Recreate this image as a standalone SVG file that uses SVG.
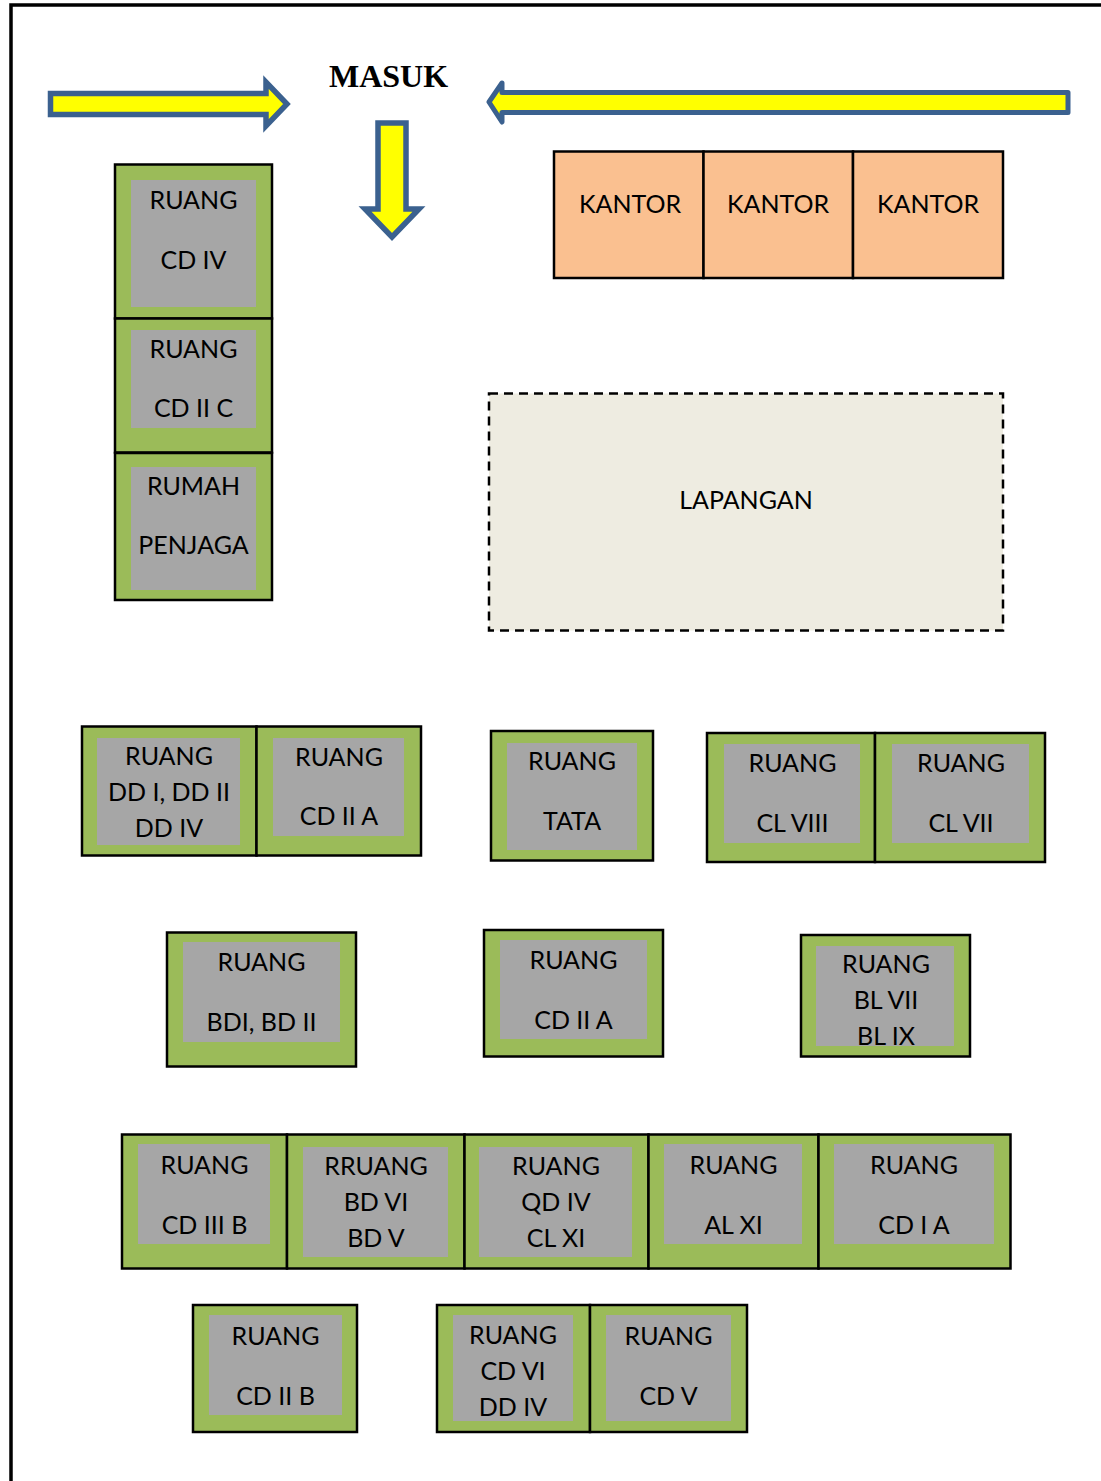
<svg xmlns="http://www.w3.org/2000/svg" width="1101" height="1481" viewBox="0 0 1101 1481">
<style>
.o{fill:#9BBB59;stroke:#000;stroke-width:2.5}
.i{fill:#A6A6A6}
.k{fill:#FAC090;stroke:#000;stroke-width:2.5}
.a{fill:#FF0;stroke:#3B618F;stroke-width:5.5;stroke-linejoin:miter}
text{font-family:"Lato","Open Sans","Liberation Sans",sans-serif;font-size:25px;fill:#000;text-anchor:middle}
</style>
<rect width="1101" height="1481" fill="#fff"/>
<path d="M11 1481V5H1101" fill="none" stroke="#000" stroke-width="3.5"/>
<g id="connectors">
<polygon class="a" points="50.5,93.5 266,93.5 266,82 287,104 266,126 266,114.500 50.500,114.500"/>
<polygon class="a" style="stroke-linejoin:round;stroke-width:5" points="1068,92.500 502,92.500 502,83 489,102 502,122 502,112.500 1068,112.500"/>
<polygon class="a" points="378,123 406,123 406,209 419,209 392,237 365,209 378,209"/>
</g>
<g id="masuk"><text x="388.500" y="87" style="font-family:'Liberation Serif',serif;font-weight:bold;font-size:32px">MASUK</text></g>
<g id="kantor1"><rect class="k" x="554" y="151.500" width="149.500" height="126.500"/><text x="630" y="213">KANTOR</text></g>
<g id="kantor2"><rect class="k" x="703.500" y="151.500" width="149.500" height="126.500"/><text x="778" y="213">KANTOR</text></g>
<g id="kantor3"><rect class="k" x="853" y="151.500" width="150" height="126.500"/><text x="928" y="213">KANTOR</text></g>
<g id="lapangan"><rect x="489" y="393.500" width="514" height="237" fill="#EEECE1" stroke="#000" stroke-width="2.500" stroke-dasharray="9 6"/><text x="746" y="509">LAPANGAN</text></g>
<g id="cd4"><rect class="o" x="115" y="164.500" width="157" height="154"/><rect class="i" x="131" y="180" width="125" height="127"/><text x="193.500" y="209">RUANG</text><text x="193.500" y="269">CD IV</text></g>
<g id="cd2c"><rect class="o" x="115" y="318.500" width="157" height="134"/><rect class="i" x="131" y="330" width="125" height="98"/><text x="193.500" y="358">RUANG</text><text x="193.500" y="417">CD II C</text></g>
<g id="penjaga"><rect class="o" x="115" y="453" width="157" height="147"/><rect class="i" x="131" y="467" width="125" height="123"/><text x="193.500" y="495">RUMAH</text><text x="193.500" y="554">PENJAGA</text></g>
<g id="dd"><rect class="o" x="82" y="726.500" width="174.500" height="129"/><rect class="i" x="97" y="738" width="143" height="107"/><text x="169" y="765">RUANG</text><text x="169" y="801">DD I, DD II</text><text x="169" y="837">DD IV</text></g>
<g id="cd2a1"><rect class="o" x="256.500" y="726.500" width="164.500" height="129"/><rect class="i" x="273" y="738" width="131" height="98"/><text x="339" y="766">RUANG</text><text x="339" y="825">CD II A</text></g>
<g id="tata"><rect class="o" x="491" y="731" width="162" height="129.500"/><rect class="i" x="507" y="743" width="130" height="107"/><text x="572" y="770">RUANG</text><text x="572" y="830">TATA</text></g>
<g id="cl8"><rect class="o" x="707" y="733" width="168" height="129"/><rect class="i" x="724" y="744" width="136" height="99"/><text x="792.500" y="772">RUANG</text><text x="792.500" y="832">CL VIII</text></g>
<g id="cl7"><rect class="o" x="875" y="733" width="170" height="129"/><rect class="i" x="892" y="744" width="137" height="99"/><text x="961" y="772">RUANG</text><text x="961" y="832">CL VII</text></g>
<g id="bd"><rect class="o" x="167" y="932.500" width="189" height="134"/><rect class="i" x="183" y="942" width="157" height="100"/><text x="261.500" y="971">RUANG</text><text x="261.500" y="1031">BDI, BD II</text></g>
<g id="cd2a2"><rect class="o" x="484" y="930" width="179" height="126.500"/><rect class="i" x="500" y="940" width="147" height="99"/><text x="573.500" y="969">RUANG</text><text x="573.500" y="1029">CD II A</text></g>
<g id="bl"><rect class="o" x="801" y="935" width="169" height="121.500"/><rect class="i" x="816" y="946" width="138" height="100"/><text x="886" y="973">RUANG</text><text x="886" y="1009">BL VII</text><text x="886" y="1045">BL IX</text></g>
<g id="cd3b"><rect class="o" x="122" y="1134.500" width="165" height="134"/><rect class="i" x="138" y="1144" width="132" height="100"/><text x="204.500" y="1174">RUANG</text><text x="204.500" y="1234">CD III B</text></g>
<g id="bd6"><rect class="o" x="287" y="1134.500" width="177.500" height="134"/><rect class="i" x="303" y="1147" width="145" height="110"/><text x="376" y="1175">RRUANG</text><text x="376" y="1211">BD VI</text><text x="376" y="1247">BD V</text></g>
<g id="qd4"><rect class="o" x="464.500" y="1134.500" width="184" height="134"/><rect class="i" x="479" y="1147" width="153" height="110"/><text x="556" y="1175">RUANG</text><text x="556" y="1211">QD IV</text><text x="556" y="1247">CL XI</text></g>
<g id="al11"><rect class="o" x="648.500" y="1134.500" width="170" height="134"/><rect class="i" x="664" y="1144" width="138" height="100"/><text x="733.500" y="1174">RUANG</text><text x="733.500" y="1234">AL XI</text></g>
<g id="cd1a"><rect class="o" x="818.500" y="1134.500" width="192" height="134"/><rect class="i" x="834" y="1144" width="160" height="100"/><text x="914" y="1174">RUANG</text><text x="914" y="1234">CD I A</text></g>
<g id="cd2b"><rect class="o" x="193" y="1305" width="164" height="127"/><rect class="i" x="209" y="1315" width="133" height="100"/><text x="275.500" y="1345">RUANG</text><text x="275.500" y="1405">CD II B</text></g>
<g id="cd6"><rect class="o" x="437" y="1305" width="153" height="127"/><rect class="i" x="453" y="1315" width="120" height="106"/><text x="513" y="1344">RUANG</text><text x="513" y="1380">CD VI</text><text x="513" y="1416">DD IV</text></g>
<g id="cd5"><rect class="o" x="590" y="1305" width="157" height="127"/><rect class="i" x="606" y="1315" width="125" height="106"/><text x="668.500" y="1345">RUANG</text><text x="668.500" y="1405">CD V</text></g>
</svg>
